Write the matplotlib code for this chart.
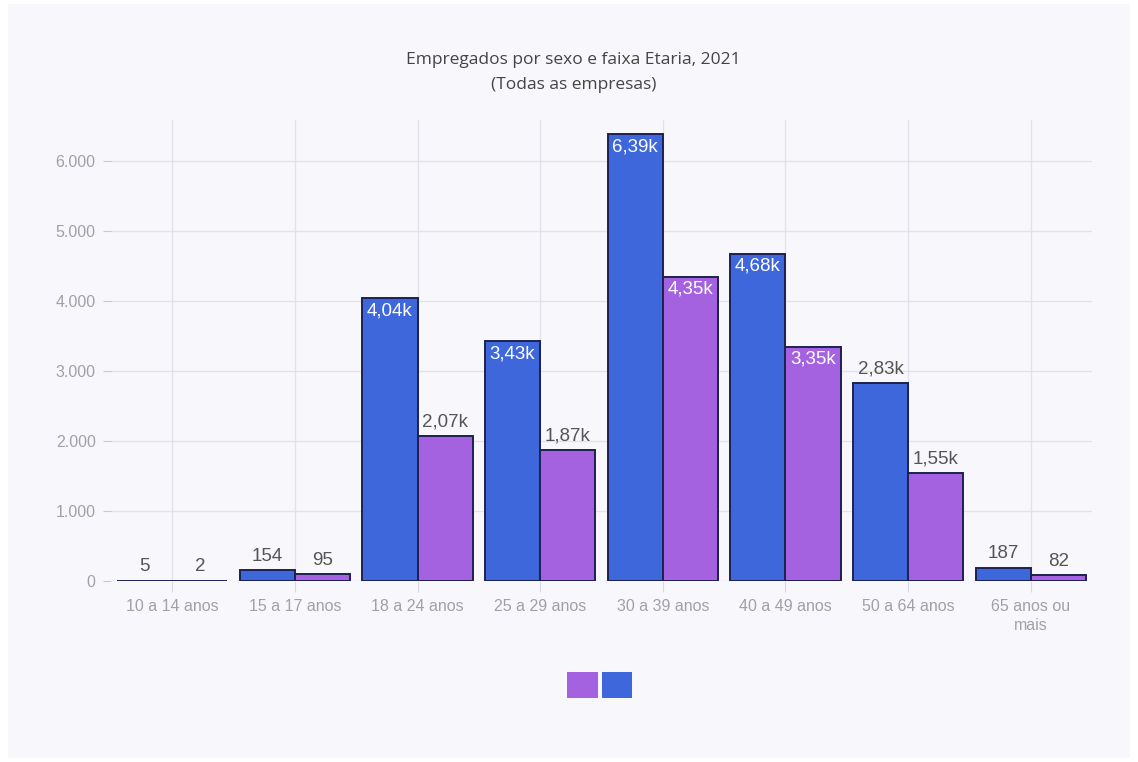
import matplotlib.pyplot as plt
import numpy as np
from matplotlib.patches import Patch, Rectangle

plt.rcParams['font.family'] = ['Liberation Sans', 'DejaVu Sans']

# data
categories = ['10 a 14 anos', '15 a 17 anos', '18 a 24 anos', '25 a 29 anos',
              '30 a 39 anos', '40 a 49 anos', '50 a 64 anos', '65 anos ou\nmais']
blue_vals = [5, 154, 4040, 3430, 6390, 4680, 2830, 187]
purple_vals = [2, 95, 2070, 1870, 4350, 3350, 1550, 82]
y_ticks = [0, 1000, 2000, 3000, 4000, 5000, 6000]

blue = '#3e67dc'
purple = '#a462e0'
edge = '#1c2150'
bg = '#f8f8fc'


def fmt_label(v):
    # plotly style short numbers with comma decimals
    if v >= 1000:
        return f'{v / 1000:.2f}k'.replace('.', ',')
    return str(v)


fig = plt.figure(figsize=(11.38, 7.62), dpi=100)
fig.patch.set_facecolor('white')
fig.patches.append(Rectangle((8 / 1138, 4 / 762), 1122 / 1138, 754 / 762,
                             transform=fig.transFigure, facecolor=bg,
                             edgecolor='none', zorder=-10))

ax = fig.add_axes([111 / 1138, 1 - 581 / 762, 981 / 1138, 461 / 762])
ax.set_facecolor(bg)

x = np.arange(len(categories))
w = 0.45
bars_b = ax.bar(x - w / 2, blue_vals, width=w, color=blue, edgecolor=edge,
                linewidth=1.4, zorder=3)
bars_p = ax.bar(x + w / 2, purple_vals, width=w, color=purple, edgecolor=edge,
                linewidth=1.4, zorder=3)

# value labels: inside (white) for the tall bars, above otherwise
for bars, vals in [(bars_b, blue_vals), (bars_p, purple_vals)]:
    for b, v in zip(bars, vals):
        cx = b.get_x() + b.get_width() / 2
        if v >= 3000:
            ax.annotate(fmt_label(v), (cx, v), xytext=(0, -3),
                        textcoords='offset points', ha='center', va='top',
                        color='white', fontsize=13.5, zorder=5)
        else:
            ax.annotate(fmt_label(v), (cx, v), xytext=(0, 4),
                        textcoords='offset points', ha='center', va='bottom',
                        color='#555555', fontsize=13.5, zorder=5)

ax.set_xlim(-0.5, len(categories) - 0.5)
ax.set_ylim(0, 6590)
ax.set_xticks(x)
ax.set_xticklabels(categories, color='#a0a0a8', fontsize=11.5, linespacing=1.35)
ax.set_yticks(y_ticks)
ax.set_yticklabels([f'{v:,}'.replace(',', '.') for v in y_ticks],
                   color='#a0a0a8', fontsize=11.5)
ax.tick_params(axis='x', length=8, color='#d8d8e0', pad=5)
ax.tick_params(axis='y', length=6, color='#c8c8d0', pad=5)
ax.grid(True, color='#e2e2ea', linewidth=1, zorder=0)
ax.set_axisbelow(True)
for s in ax.spines.values():
    s.set_visible(False)

fig.text(0.504, 1 - 60 / 762, 'Empregados por sexo e faixa Etaria, 2021',
         ha='center', va='center', fontsize=12.5, color='#444444',
         family=['Open Sans', 'DejaVu Sans'])
fig.text(0.504, 1 - 85 / 762, '(Todas as empresas)',
         ha='center', va='center', fontsize=12.5, color='#444444',
         family=['Open Sans', 'DejaVu Sans'])

handles = [Patch(facecolor=purple, edgecolor='none'),
           Patch(facecolor=blue, edgecolor='none')]
fig.legend(handles, ['', ''], loc='center', bbox_to_anchor=(0.527, 1 - 685 / 762),
           ncol=2, frameon=False, handlelength=2.2, handleheight=2.4,
           handletextpad=0, columnspacing=0.3, fontsize=10)

fig.savefig('out.png', dpi=100, facecolor=fig.get_facecolor())
